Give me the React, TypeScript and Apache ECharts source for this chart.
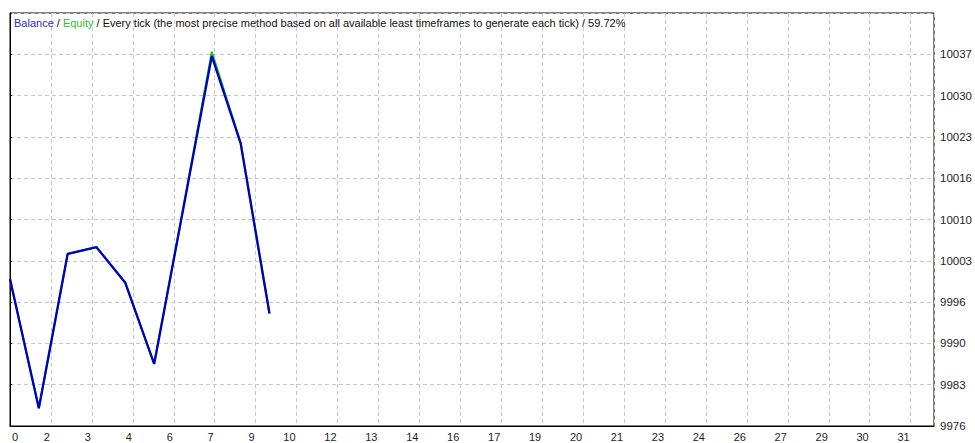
import React, { useEffect, useRef } from 'react';
import * as echarts from 'echarts';

// ---- data ----
const tradeNumbers = [0, 1, 2, 3, 4, 5, 6, 7, 8, 9];
const balanceValues = [10000, 9979.0, 10004.1, 10005.2, 9999.4, 9986.2, 10011.2, 10036.3, 10022.1, 9994.4];
const equityValues = [10000, 9979.0, 10004.1, 10005.2, 9999.4, 9986.2, 10011.3, 10037.0, 10022.2, 9994.4];

const xTickLabels = ['0', '2', '3', '4', '6', '7', '9', '10', '12', '13', '14', '16', '17', '19', '20', '21', '23', '24', '26', '27', '29', '30', '31'];
const yTickLabels = ['9976', '9983', '9990', '9996', '10003', '10010', '10016', '10023', '10030', '10037'];

const balanceName = 'Balance';
const equityName = 'Equity';
const testTitle = 'Every tick (the most precise method based on all available least timeframes to generate each tick)';
const testQuality = '59.72%';

// ---- axis scale parameters ----
const X_TICK_STEP = 1.42; // trades per vertical grid line
const X_MAX = 32.05;
const Y_BASE = 9976.1; // value at bottom of plot
const Y_TICK_STEP = 6.72; // value per horizontal grid line
const Y_TICK_COUNT = 10;

const FONT = '"Liberation Sans", Arial, sans-serif';

export default function App() {
  const ref = useRef<HTMLDivElement>(null);

  useEffect(() => {
    if (!ref.current) return;
    const chart = echarts.init(ref.current, undefined, { renderer: 'svg' });
    const gridLine = { show: true, lineStyle: { color: '#c8c8c8', width: 1, type: [4, 3] as any } };

    chart.setOption({
      animation: false,
      backgroundColor: '#ffffff',
      textStyle: { fontFamily: FONT },
      grid: {
        left: 10,
        top: 13,
        width: 930,
        height: 413,
        show: true,
        borderColor: '#000000',
        borderWidth: 1,
        backgroundColor: 'transparent',
      },
      xAxis: {
        type: 'value',
        min: 0,
        max: X_MAX,
        interval: X_TICK_STEP,
        axisLine: { show: true, lineStyle: { color: '#000', width: 1 } },
        axisTick: { show: false },
        splitLine: gridLine,
        axisLabel: {
          show: true,
          color: '#1e1e1e',
          fontSize: 11,
          fontFamily: FONT,
          margin: 5,
          align: 'right',
          alignMinLabel: 'left',
          padding: [0, 1, 0, 2],
          formatter: (_v: number, i: number) => xTickLabels[i] ?? '',
        },
      },
      yAxis: {
        type: 'value',
        position: 'right',
        min: 0,
        max: Y_TICK_STEP * Y_TICK_COUNT,
        interval: Y_TICK_STEP,
        axisLine: { show: true, lineStyle: { color: '#000', width: 1 } },
        axisTick: { show: true, length: 2, lineStyle: { color: '#000' } },
        splitLine: gridLine,
        axisLabel: {
          show: true,
          color: '#1e1e1e',
          fontSize: 11.5,
          fontFamily: FONT,
          margin: 6,
          formatter: (_v: number, i: number) => yTickLabels[i] ?? '',
        },
      },
      series: [
        {
          name: equityName,
          type: 'line',
          data: tradeNumbers.map((t, i) => [t, equityValues[i] - Y_BASE]),
          showSymbol: false,
          symbol: 'none',
          lineStyle: { color: '#20c020', width: 2 },
          z: 2,
        },
        {
          name: balanceName,
          type: 'line',
          data: tradeNumbers.map((t, i) => [t, balanceValues[i] - Y_BASE]),
          showSymbol: false,
          symbol: 'none',
          lineStyle: { color: '#0000c0', width: 2.3 },
          z: 3,
        },
      ],
      graphic: [
        {
          type: 'text',
          left: 14,
          top: 17,
          z: 10,
          style: {
            text: `{b|${balanceName}} / {e|${equityName}} / ${testTitle} / ${testQuality}`,
            font: `11px ${FONT}`,
            fill: '#101010',
            rich: {
              b: { fill: '#2a2ac8', font: `11px ${FONT}` },
              e: { fill: '#2cc02c', font: `11px ${FONT}` },
            },
          },
        },
      ],
    });

    return () => chart.dispose();
  }, []);

  return (
    <div
      ref={ref}
      style={{ position: 'absolute', left: 0, top: 0, width: 975, height: 443, background: '#fff' }}
    />
  );
}
